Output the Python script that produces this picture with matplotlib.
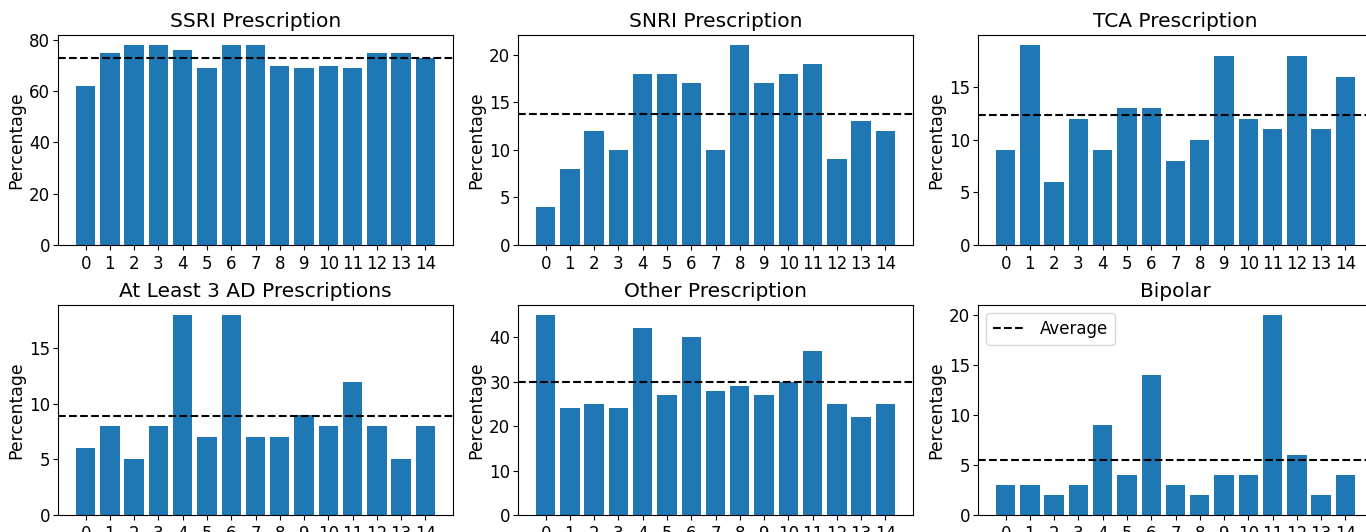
import numpy as np
import matplotlib
matplotlib.use("Agg")
import matplotlib.pyplot as plt

# groups 0..14 on the x axis
groups = list(range(15))

titles = ["SSRI Prescription", "SNRI Prescription", "TCA Prescription",
          "At Least 3 AD Prescriptions", "Other Prescription", "Bipolar"]

ssri = [62, 75, 78, 78, 76, 69, 78, 78, 70, 69, 70, 69, 75, 75, 73]
snri = [4, 8, 12, 10, 18, 18, 17, 10, 21, 17, 18, 19, 9, 13, 12]
tca = [9, 19, 6, 12, 9, 13, 13, 8, 10, 18, 12, 11, 18, 11, 16]
ad3 = [6, 8, 5, 8, 18, 7, 18, 7, 7, 9, 8, 12, 8, 5, 8]
other = [45, 24, 25, 24, 42, 27, 40, 28, 29, 27, 30, 37, 25, 22, 25]
bipolar = [3, 3, 2, 3, 9, 4, 14, 3, 2, 4, 4, 20, 6, 2, 4]

series = [ssri, snri, tca, ad3, other, bipolar]

W, H = 1366, 532
fig = plt.figure(figsize=(W / 100, H / 100), dpi=100)

# axes boxes in pixels: left, top, width, height
lefts = [58, 518, 978]
tops = [35, 305]
aw, ah = 395, 210

for k, (title, vals) in enumerate(zip(titles, series)):
    row, col = divmod(k, 3)
    l = lefts[col]
    t = tops[row]
    ax = fig.add_axes([l / W, 1 - (t + ah) / H, aw / W, ah / H])
    ax.bar(groups, vals, color="#1f77b4")
    ax.axhline(np.mean(vals), color="black", linestyle="--", label="Average")
    ax.set_xticks(groups)
    ax.set_title(title, fontsize=14.5)
    ax.set_ylabel("Percentage", fontsize=12.4, labelpad=3)
    ax.tick_params(labelsize=12)
    ax.tick_params(axis="y", pad=2)
    if k == 5:
        ax.legend(loc="upper left", fontsize=12)

fig.savefig("out.png", dpi=100)
